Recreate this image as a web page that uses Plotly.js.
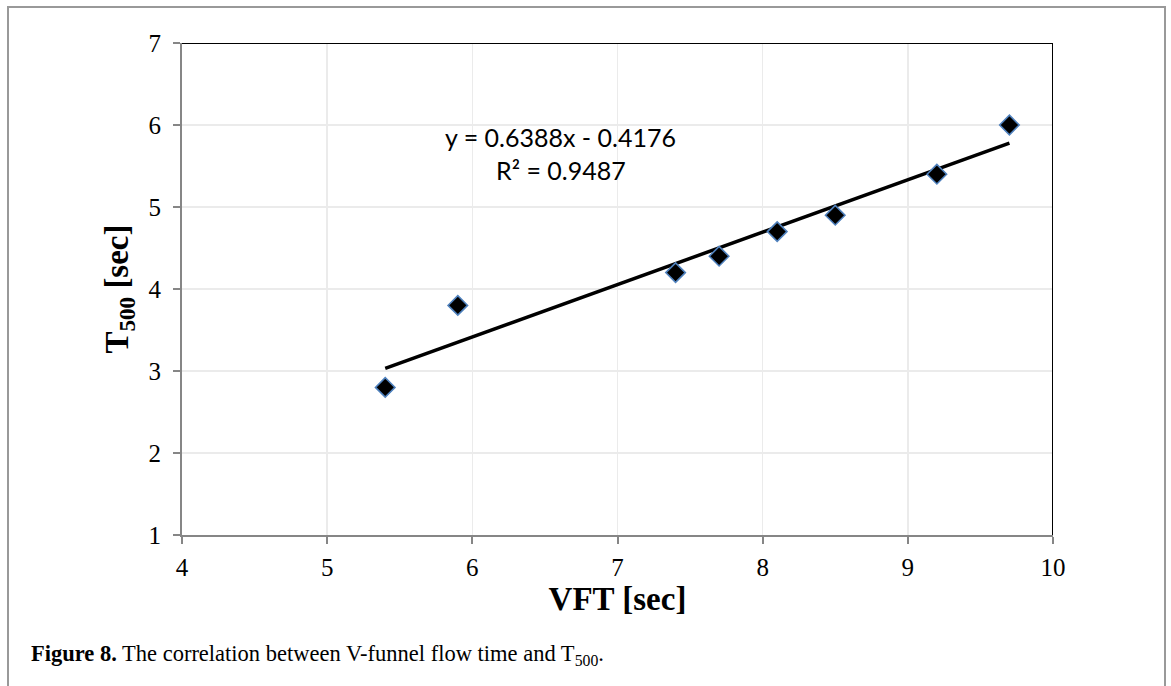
<!DOCTYPE html>
<html>
<head>
<meta charset="utf-8">
<script src="https://cdn.plot.ly/plotly-3.0.1.min.js"></script>
<style>html,body{margin:0;padding:0;background:#fff;}#chart{width:1171px;height:686px;}</style>
</head>
<body>
<div id="chart"></div>
<script>
// Data
const vft = [5.4, 5.9, 7.4, 7.7, 8.1, 8.5, 9.2, 9.7];
const t500 = [2.8, 3.8, 4.2, 4.4, 4.7, 4.9, 5.4, 6.0];
const slope = 0.6388;
const intercept = -0.4176;
const r2 = 0.9487;
const xTicks = [4, 5, 6, 7, 8, 9, 10];
const yTicks = [1, 2, 3, 4, 5, 6, 7];

const xMin = Math.min(...vft), xMax = Math.max(...vft);
const trendX = [xMin, xMax];
const trendY = trendX.map(x => slope * x + intercept);

const W = 1171, H = 686;
const L = 182, R = 1053, T = 43, B = 535;
const px2x = p => (p - L) / (R - L);
const px2y = p => (B - p) / (B - T);

const traces = [
  {x: trendX, y: trendY, type: 'scatter', mode: 'lines',
   line: {color: '#000', width: 3.5}, hoverinfo: 'skip'},
  {x: vft, y: t500, type: 'scatter', mode: 'markers',
   marker: {symbol: 'diamond', size: 15, color: '#000', line: {color: '#4f81bd', width: 1.6}}}
];

const serif = 'Liberation Serif, Times New Roman, serif';
const layout = {
  width: W, height: H,
  margin: {l: L, r: W - R, t: T, b: H - B},
  paper_bgcolor: '#fff', plot_bgcolor: '#fff',
  showlegend: false,
  xaxis: {
    range: [4, 10], tickvals: xTicks, ticktext: xTicks.map(String),
    showline: true, linecolor: '#868686', linewidth: 2,
    ticks: 'outside', ticklen: 7, tickwidth: 2, tickcolor: '#868686',
    ticklabelstandoff: 2,
    showgrid: true, gridcolor: '#ebebeb', gridwidth: 1.5, zeroline: false,
    tickfont: {family: serif, size: 25, color: '#000'},
    title: {text: '<b>VFT [sec]</b>', font: {family: serif, size: 33, color: '#000'}, standoff: 6},
    automargin: false
  },
  yaxis: {
    range: [1, 7], tickvals: yTicks, ticktext: yTicks.map(String),
    showline: true, linecolor: '#868686', linewidth: 2,
    ticks: 'outside', ticklen: 7, tickwidth: 2, tickcolor: '#868686',
    ticklabelstandoff: 7,
    showgrid: true, gridcolor: '#ebebeb', gridwidth: 1.5, zeroline: false,
    tickfont: {family: serif, size: 25, color: '#000'},
    title: {text: '<b>T<sub>500</sub> [sec]</b>', font: {family: serif, size: 33, color: '#000'}, standoff: 10},
    automargin: false
  },
  shapes: [
    {type: 'line', xref: 'x', yref: 'y', x0: 4, x1: 10, y0: 7, y1: 7, line: {color: '#000', width: 2}, layer: 'above'},
    {type: 'line', xref: 'x', yref: 'y', x0: 10, x1: 10, y0: 1, y1: 7, line: {color: '#000', width: 2}, layer: 'above'},
    {type: 'rect', xref: 'paper', yref: 'paper', x0: px2x(8), x1: px2x(1165), y0: px2y(720), y1: px2y(7),
     line: {color: '#999', width: 2}, fillcolor: 'rgba(0,0,0,0)', layer: 'below'}
  ],
  annotations: [
    {xref: 'x', yref: 'y', x: 6.61, y: 5.854, text: 'y = ' + slope + 'x - ' + Math.abs(intercept),
     showarrow: false, xanchor: 'center', yanchor: 'middle', font: {family: 'Lato, Open Sans, sans-serif', size: 25, color: '#000'}},
    {xref: 'x', yref: 'y', x: 6.61, y: 5.45, text: 'R² = ' + r2,
     showarrow: false, xanchor: 'center', yanchor: 'middle', font: {family: 'Lato, Open Sans, sans-serif', size: 25, color: '#000'}},
    {xref: 'paper', yref: 'paper', x: px2x(29), y: px2y(655), xanchor: 'left', yanchor: 'middle', showarrow: false,
     text: '<b>Figure 8.</b> The correlation between V-funnel flow time and T<sub>500</sub>.',
     font: {family: serif, size: 22.5, color: '#000'}}
  ]
};

Plotly.newPlot('chart', traces, layout, {displayModeBar: false, staticPlot: true});
</script>
</body>
</html>
